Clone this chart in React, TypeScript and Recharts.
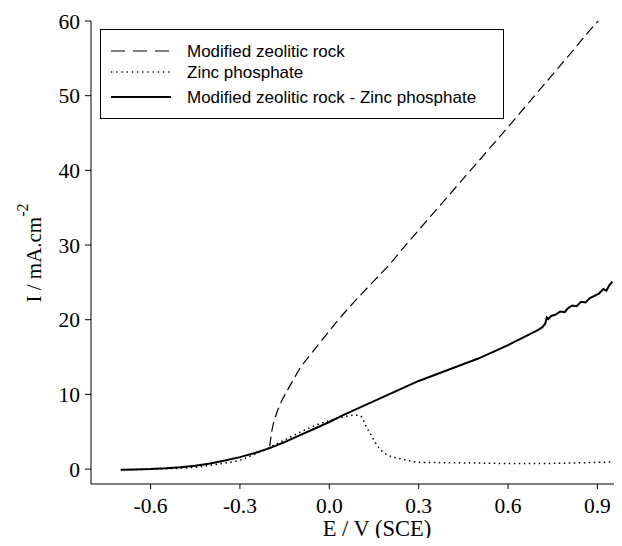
import { LineChart, Line, XAxis, YAxis } from "recharts";

// potential E (V vs SCE) and current density I (mA/cm2)
const zeoliteE = [-0.2, -0.195, -0.19, -0.18, -0.17, -0.16, -0.14, -0.12, -0.1, -0.07, -0.04, 0.0, 0.05, 0.1, 0.15, 0.2, 0.25, 0.3, 0.4, 0.5, 0.6, 0.7, 0.8, 0.9, 0.95];
const zeoliteI = [3.0, 4.6, 5.7, 7.1, 8.2, 9.1, 10.6, 12.0, 13.4, 15.0, 16.5, 18.5, 20.9, 23.1, 25.2, 27.3, 29.7, 32.0, 36.6, 41.2, 45.8, 50.5, 55.2, 59.9, 62.0];

const zincE = [-0.7, -0.65, -0.6, -0.55, -0.5, -0.45, -0.4, -0.35, -0.3, -0.25, -0.2, -0.15, -0.1, -0.05, 0.0, 0.05, 0.08, 0.1, 0.11, 0.12, 0.14, 0.16, 0.18, 0.2, 0.25, 0.3, 0.4, 0.5, 0.6, 0.7, 0.8, 0.9, 0.95];
const zincI = [-0.1, -0.05, 0.0, 0.05, 0.1, 0.25, 0.5, 0.8, 1.2, 2.0, 2.9, 3.9, 4.9, 5.8, 6.5, 7.0, 7.2, 7.2, 6.9, 6.0, 4.6, 3.2, 2.3, 1.8, 1.3, 0.9, 0.85, 0.8, 0.75, 0.75, 0.8, 0.9, 0.95];

const mixE = [-0.7, -0.65, -0.6, -0.55, -0.5, -0.45, -0.4, -0.35, -0.3, -0.25, -0.2, -0.15, -0.1, -0.05, 0.0, 0.05, 0.1, 0.15, 0.2, 0.25, 0.3, 0.4, 0.5, 0.6, 0.7, 0.715, 0.725, 0.73, 0.735, 0.745, 0.76, 0.775, 0.79, 0.8, 0.815, 0.83, 0.845, 0.86, 0.875, 0.89, 0.905, 0.92, 0.93, 0.94, 0.95];
const mixI = [-0.1, -0.05, 0.0, 0.1, 0.25, 0.45, 0.75, 1.15, 1.6, 2.15, 2.8, 3.6, 4.5, 5.4, 6.3, 7.3, 8.2, 9.1, 10.0, 10.9, 11.8, 13.3, 14.8, 16.6, 18.6, 19.0, 19.5, 20.3, 20.1, 20.5, 20.7, 21.1, 21.0, 21.5, 21.9, 21.8, 22.4, 22.3, 22.9, 23.2, 23.5, 24.1, 23.9, 24.6, 25.1];

const xTicks = [-0.6, -0.3, 0.0, 0.3, 0.6, 0.9];
const yTicks = [0, 10, 20, 30, 40, 50, 60];

const seriesNames = ["Modified zeolitic rock", "Zinc phosphate", "Modified zeolitic rock - Zinc phosphate"];

const toPoints = (es: number[], is: number[]) => es.map((e, i) => ({ e, i: is[i] }));

const serif = "'Liberation Serif', 'Times New Roman', serif";
const sans = "'Liberation Sans', Arial, sans-serif";

function LegendBox() {
  const rows = [
    { name: seriesNames[0], dash: "14 8", width: 1.2 },
    { name: seriesNames[1], dash: "1.3 3.9", width: 1.4 },
    { name: seriesNames[2], dash: undefined, width: 2 },
  ];
  const ys = [22, 43, 68];
  return (
    <svg width={405} height={91} style={{ position: "absolute", left: 100, top: 29 }}>
      <rect x={0.5} y={0.5} width={403} height={89} fill="white" stroke="#000" strokeWidth={1} />
      {rows.map((r, k) => (
        <g key={r.name}>
          <line x1={11} x2={71} y1={ys[k]} y2={ys[k]} stroke="#000" strokeWidth={r.width} strokeDasharray={r.dash} />
          <text x={87} y={ys[k] + 6} fontFamily={sans} fontSize={17} fill="#000">
            {r.name}
          </text>
        </g>
      ))}
    </svg>
  );
}

export default function App() {
  return (
    <div style={{ width: 622, height: 546, overflow: "hidden", margin: -8, background: "#fff", position: "relative" }}>
      <LineChart width={680} height={546} margin={{ top: 21, right: 23, bottom: 22, left: 0 }}>
        <XAxis
          type="number"
          dataKey="e"
          domain={[-0.8, 1.1]}
          ticks={xTicks}
          allowDataOverflow
          tickFormatter={(v: number) => v.toFixed(1)}
          stroke="#000"
          tickSize={5}
          tickMargin={9}
          height={40}
          tick={{ fill: "#000", fontFamily: serif, fontSize: 21.5 }}
          label={() => (
            <text x={377} y={536} textAnchor="middle" fontFamily={serif} fontSize={22.5} fill="#000">
              E / V (SCE)
            </text>
          )}
        />
        <YAxis
          type="number"
          dataKey="i"
          domain={[-2, 60]}
          ticks={yTicks}
          allowDataOverflow
          stroke="#000"
          tickSize={6}
          tickMargin={5}
          width={91}
          tick={{ fill: "#000", fontFamily: serif, fontSize: 21.5 }}
          label={() => (
            <text transform="translate(41, 253) rotate(-90)" textAnchor="middle" fontFamily={serif} fontSize={21} fill="#000">
              I / mA.cm
              <tspan dy={-13} fontSize={16}>-2</tspan>
            </text>
          )}
        />
        <Line
          data={toPoints(zeoliteE, zeoliteI)}
          dataKey="i"
          name={seriesNames[0]}
          type="monotone"
          stroke="#000"
          strokeWidth={1.2}
          strokeDasharray="10 5"
          dot={false}
          isAnimationActive={false}
        />
        <Line
          data={toPoints(zincE, zincI)}
          dataKey="i"
          name={seriesNames[1]}
          type="monotone"
          stroke="#000"
          strokeWidth={1.5}
          strokeDasharray="1.5 3.5"
          dot={false}
          isAnimationActive={false}
        />
        <Line
          data={toPoints(mixE, mixI)}
          dataKey="i"
          name={seriesNames[2]}
          type="linear"
          stroke="#000"
          strokeWidth={2}
          dot={false}
          isAnimationActive={false}
        />
      </LineChart>
      <LegendBox />
    </div>
  );
}
